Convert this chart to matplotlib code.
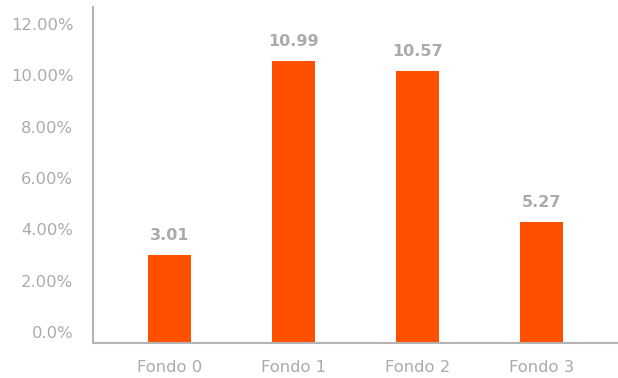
import matplotlib
matplotlib.use("Agg")
import matplotlib.pyplot as plt
import matplotlib.transforms as mtransforms

categories = ["Fondo 0", "Fondo 1", "Fondo 2", "Fondo 3"]
bar_values = [3.44, 10.98, 10.59, 4.72]
value_labels = ["3.01", "10.99", "10.57", "5.27"]
y_ticks = [0, 2, 4, 6, 8, 10, 12]
y_tick_labels = ["0.0%", "2.00%", "4.00%", "6.00%", "8.00%", "10.00%", "12.00%"]

plt.rcParams['font.family'] = ['DejaVu Sans']
text_color = "#ababab"
bar_color = "#FF5000"
spine_color = "#b3b3b3"

fig = plt.figure(figsize=(6.18, 3.78), dpi=100)
ax = fig.add_axes([0.150, 0.0926, 0.85, 0.889])

x = list(range(len(categories)))
ax.bar(x, bar_values, width=0.35, color=bar_color, zorder=2)

for xi, v, lab in zip(x, bar_values, value_labels):
    ax.annotate(lab, (xi, v), xytext=(0, 14), textcoords="offset points",
                ha="center", va="center", fontsize=11.5, fontweight="semibold",
                color=text_color)

ax.set_xlim(-0.62, 3.62)
ax.set_ylim(0, 13.1)
ax.set_xticks(x)
ax.set_xticklabels(categories, fontsize=11.8, color=text_color)
ax.set_yticks(y_ticks)
ax.set_yticklabels(y_tick_labels, fontsize=11.8, color=text_color)
ax.tick_params(axis="both", length=0)
ax.tick_params(axis="y", pad=14)
ax.tick_params(axis="x", pad=12)

offset = mtransforms.ScaledTranslation(0, 11 / 100, fig.dpi_scale_trans)
for lbl in ax.get_yticklabels():
    lbl.set_transform(lbl.get_transform() + offset)

for s in ["top", "right"]:
    ax.spines[s].set_visible(False)
for s in ["left", "bottom"]:
    ax.spines[s].set_color(spine_color)
    ax.spines[s].set_linewidth(1.5)

fig.savefig("out.png", dpi=100)
